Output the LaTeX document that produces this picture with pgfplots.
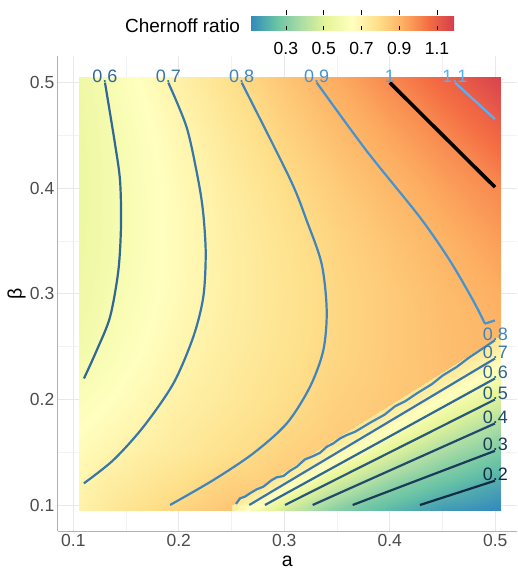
\documentclass[border=0pt]{standalone}
\usepackage{pgfplots}
\pgfplotsset{compat=1.18}
\usepackage{fontspec}
\setmainfont{Liberation Sans}
\definecolor{k2}{RGB}{19,43,67}
\definecolor{k3}{RGB}{26,58,88}
\definecolor{k4}{RGB}{33,73,108}
\definecolor{k5}{RGB}{40,88,128}
\definecolor{k6}{RGB}{48,103,148}
\definecolor{k7}{RGB}{55,118,168}
\definecolor{k8}{RGB}{63,133,188}
\definecolor{k9}{RGB}{70,147,208}
\definecolor{k10}{RGB}{78,162,228}
\definecolor{k11}{RGB}{86,177,247}
\begin{document}
\begin{tikzpicture}
\useasboundingbox (0,0) rectangle (517pt,572pt);
\begin{axis}[
  at={(57.5pt,40.6pt)}, anchor=south west,
  scale only axis, width=459.5pt, height=475.2pt,
  xmin=0.085, xmax=0.5206, ymin=0.075, ymax=0.525,
  enlargelimits=false, clip=false,
  xtick={0.1,0.2,0.3,0.4,0.5}, ytick={0.1,0.2,0.3,0.4,0.5},
  minor xtick={0.15,0.25,0.35,0.45}, minor ytick={0.15,0.25,0.35,0.45},
  grid=both,
  major grid style={line width=0.9pt, color=black!9},
  minor grid style={line width=0.5pt, color=black!5},
  axis x line*=bottom, axis y line*=left,
  axis line style={-, draw=black!30, line width=0.8pt},
  major tick length=0pt, minor tick length=0pt,
  /pgf/number format/assume math mode=true,
  tick label style={font=\fontsize{17.5}{17.5}\selectfont, text=black!70},
  xticklabel style={inner sep=0pt, anchor=north, yshift=-2.5pt},
  yticklabel style={inner sep=0pt, anchor=east, xshift=-3pt},
  xlabel={a}, ylabel={β},
  xlabel style={at={(axis description cs:0.5,0)}, anchor=base, yshift=-35pt, font=\fontsize{19.5}{19.5}\selectfont},
  ylabel style={at={(axis description cs:-0.089,0.5)}, anchor=center, font=\fontsize{19.5}{19.5}\selectfont},
  colormap={spec}{rgb255=(50,136,189) rgb255=(102,194,165) rgb255=(171,221,164) rgb255=(230,245,152) rgb255=(255,255,191) rgb255=(254,224,139) rgb255=(253,174,97) rgb255=(244,109,67) rgb255=(213,62,79)},
  point meta min=0.11, point meta max=1.19,
  colorbar horizontal,
  colorbar style={
    at={(parent axis.north west)}, anchor=south west,
    xshift=192.5pt, yshift=34.5pt,
    scale only axis, width=204pt, height=20pt,
    axis on top,
    xtick={0.3,0.5,0.7,0.9,1.1},
    xticklabel pos=lower, xtick pos=both, xtick align=inside,
    major tick length=4.5pt,
    tick style={black, line width=0.7pt},
    axis line style={draw=none},
    ytick=\empty,
    /pgf/number format/assume math mode=true,
    xticklabel style={font=\fontsize{17.5}{17.5}\selectfont, inner sep=0pt, anchor=north, yshift=-12pt, text=black},
  },
]
% upper branch
\addplot[surf, shader=interp, point meta=explicit] table[meta=v] {
a b v
0.105 0.095 0.71
0.15 0.095 0.767
0.2 0.095 0.815
0.25 0.095 0.86
0.3 0.095 0.87
0.35 0.095 0.875
0.4 0.095 0.88
0.45 0.095 0.885
0.505 0.095 0.89

0.105 0.15 0.67
0.15 0.15 0.706
0.2 0.15 0.745
0.25 0.15 0.784
0.3 0.15 0.82
0.35 0.15 0.845
0.4 0.15 0.86
0.45 0.15 0.87
0.505 0.15 0.88

0.105 0.2 0.622
0.15 0.2 0.664
0.2 0.2 0.713
0.25 0.2 0.75
0.3 0.2 0.788
0.35 0.2 0.825
0.4 0.2 0.85
0.45 0.2 0.87
0.505 0.2 0.89

0.105 0.25 0.579
0.15 0.25 0.632
0.2 0.25 0.689
0.25 0.25 0.732
0.3 0.25 0.771
0.35 0.25 0.81
0.4 0.25 0.845
0.45 0.25 0.875
0.505 0.25 0.9

0.105 0.3 0.561
0.15 0.3 0.614
0.2 0.3 0.673
0.25 0.3 0.723
0.3 0.3 0.766
0.35 0.3 0.808
0.4 0.3 0.844
0.45 0.3 0.881
0.505 0.3 0.92

0.105 0.35 0.551
0.15 0.35 0.607
0.2 0.35 0.669
0.25 0.35 0.724
0.3 0.35 0.772
0.35 0.35 0.818
0.4 0.35 0.861
0.45 0.35 0.904
0.505 0.35 0.955

0.105 0.4 0.548
0.15 0.4 0.607
0.2 0.4 0.673
0.25 0.4 0.733
0.3 0.4 0.789
0.35 0.4 0.841
0.4 0.4 0.892
0.45 0.4 0.945
0.505 0.4 1.0

0.105 0.45 0.55
0.15 0.45 0.614
0.2 0.45 0.686
0.25 0.45 0.754
0.3 0.45 0.818
0.35 0.45 0.878
0.4 0.45 0.938
0.45 0.45 0.998
0.505 0.45 1.078

0.105 0.505 0.56
0.15 0.505 0.633
0.2 0.505 0.714
0.25 0.505 0.786
0.3 0.505 0.857
0.35 0.505 0.928
0.4 0.505 1.0
0.45 0.505 1.081
0.505 0.505 1.18
};
% lower branch
\addplot[surf, shader=interp, point meta=explicit] table[meta=v] {
a b v
0.25 0.095 0.74
0.275 0.095 0.586
0.3 0.095 0.461
0.35 0.095 0.305
0.4 0.095 0.221
0.45 0.095 0.15
0.505 0.095 0.11

0.25 0.0958 0.74
0.275 0.095 0.586
0.3 0.095 0.461
0.35 0.095 0.305
0.4 0.095 0.221
0.45 0.1074 0.2
0.505 0.1263 0.2

0.25 0.0966 0.74
0.275 0.095 0.586
0.3 0.095 0.461
0.35 0.095 0.305
0.4 0.1138 0.3
0.45 0.1333 0.3
0.505 0.1549 0.3

0.25 0.0975 0.74
0.275 0.095 0.586
0.3 0.095 0.461
0.35 0.1105 0.4
0.4 0.1333 0.4
0.45 0.156 0.4
0.505 0.1811 0.4

0.25 0.0983 0.74
0.275 0.095 0.586
0.3 0.0996 0.5
0.35 0.1251 0.5
0.4 0.1506 0.5
0.45 0.176 0.5
0.505 0.204 0.5

0.25 0.0991 0.74
0.275 0.0963 0.6
0.3 0.1102 0.6
0.35 0.138 0.6
0.4 0.1658 0.6
0.45 0.1936 0.6
0.505 0.2242 0.6

0.25 0.0996 0.74
0.275 0.1049 0.7
0.3 0.12 0.7
0.35 0.1501 0.7
0.4 0.1801 0.7
0.45 0.2102 0.7
0.505 0.2433 0.7

0.25 0.1001 0.75
0.275 0.1159 0.76
0.3 0.1316 0.76
0.35 0.1631 0.76
0.4 0.1946 0.76
0.45 0.2261 0.76
0.505 0.2607 0.76
};
% contours, upper branch
\addplot[k6, line width=2.2pt, smooth] coordinates {(0.130,0.50) (0.1395,0.442) (0.1443,0.4071) (0.1452,0.365) (0.1427,0.3221) (0.1348,0.278) (0.1222,0.2465) (0.1101,0.2198)};
\addplot[k7, line width=2.2pt, smooth] coordinates {(0.190,0.50) (0.2075,0.4574) (0.2185,0.4072) (0.2232,0.3757) (0.2255,0.3379) (0.2232,0.2969) (0.2137,0.2591) (0.1948,0.215) (0.1664,0.174) (0.1379,0.1425) (0.110,0.1205)};
\addplot[k8, line width=2.2pt, smooth] coordinates {(0.2596,0.50) (0.3054,0.4088) (0.3212,0.3694) (0.3354,0.3284) (0.3402,0.2843) (0.337,0.2465) (0.3243,0.2118) (0.3023,0.1772) (0.2706,0.1489) (0.2327,0.1236) (0.1917,0.10)};
\addplot[k9, line width=2.2pt, smooth] coordinates {(0.3307,0.50) (0.378,0.4354) (0.4286,0.3724) (0.457,0.3314) (0.479,0.2937) (0.4902,0.2717)};
\addplot[k9, line width=2.2pt] coordinates {(0.4902,0.2717) (0.4997,0.2748)};
\addplot[k11, line width=2.2pt] coordinates {(0.4618,0.50) (0.4997,0.4654)};
\addplot[black, line width=3.6pt] coordinates {(0.400,0.50) (0.4997,0.401)};
% contours, lower branch
\addplot[k8, line width=2.2pt] coordinates {(0.2542,0.101) (0.2580,0.1063) (0.2627,0.1079) (0.2675,0.1111) (0.2738,0.1148) (0.2801,0.1173) (0.2881,0.1236) (0.2928,0.1262) (0.2991,0.1274) (0.3054,0.1324) (0.3118,0.1362) (0.3196,0.1432) (0.3260,0.1457) (0.3338,0.1494) (0.3402,0.1551) (0.3464,0.1583) (0.3528,0.163) (0.3592,0.1662) (0.3670,0.1693) (0.3749,0.174) (0.3812,0.1778) (0.395,0.1855) (0.405,0.1935) (0.415,0.1985) (0.4255,0.2056) (0.44,0.2145) (0.45,0.2225) (0.4634,0.2307) (0.475,0.2395) (0.4997,0.256)};
\addplot[k7, line width=2.2pt] coordinates {(0.2668,0.10) (0.4997,0.2387)};
\addplot[k6, line width=2.2pt] coordinates {(0.2817,0.10) (0.4997,0.2198)};
\addplot[k5, line width=2.2pt] coordinates {(0.3007,0.10) (0.4997,0.1999)};
\addplot[k4, line width=2.2pt] coordinates {(0.3269,0.10) (0.4997,0.1772)};
\addplot[k3, line width=2.2pt] coordinates {(0.3648,0.10) (0.4997,0.1513)};
\addplot[k2, line width=2.2pt] coordinates {(0.4286,0.10) (0.4997,0.123)};
% contour labels
\begin{scope}[every node/.style={anchor=base, inner sep=0pt, font=\fontsize{18}{18}\selectfont}]
\node[text=k6] at (axis cs:0.130,0.50) {0.6};
\node[text=k7] at (axis cs:0.190,0.50) {0.7};
\node[text=k8] at (axis cs:0.2596,0.50) {0.8};
\node[text=k9] at (axis cs:0.3307,0.50) {0.9};
\node[text=k10] at (axis cs:0.400,0.50) {1};
\node[text=k11] at (axis cs:0.4618,0.50) {1.1};
\node[text=k8] at (axis cs:0.5,0.256) {0.8};
\node[text=k7] at (axis cs:0.5,0.2387) {0.7};
\node[text=k6] at (axis cs:0.5,0.2198) {0.6};
\node[text=k5] at (axis cs:0.5,0.1999) {0.5};
\node[text=k4] at (axis cs:0.5,0.1772) {0.4};
\node[text=k3] at (axis cs:0.5,0.1513) {0.3};
\node[text=k2] at (axis cs:0.5,0.123) {0.2};
\end{scope}
\end{axis}
\node[anchor=base, inner sep=0pt, font=\fontsize{19}{19}\selectfont] at (182.5pt,539.7pt) {Chernoff ratio};
\end{tikzpicture}
\end{document}
